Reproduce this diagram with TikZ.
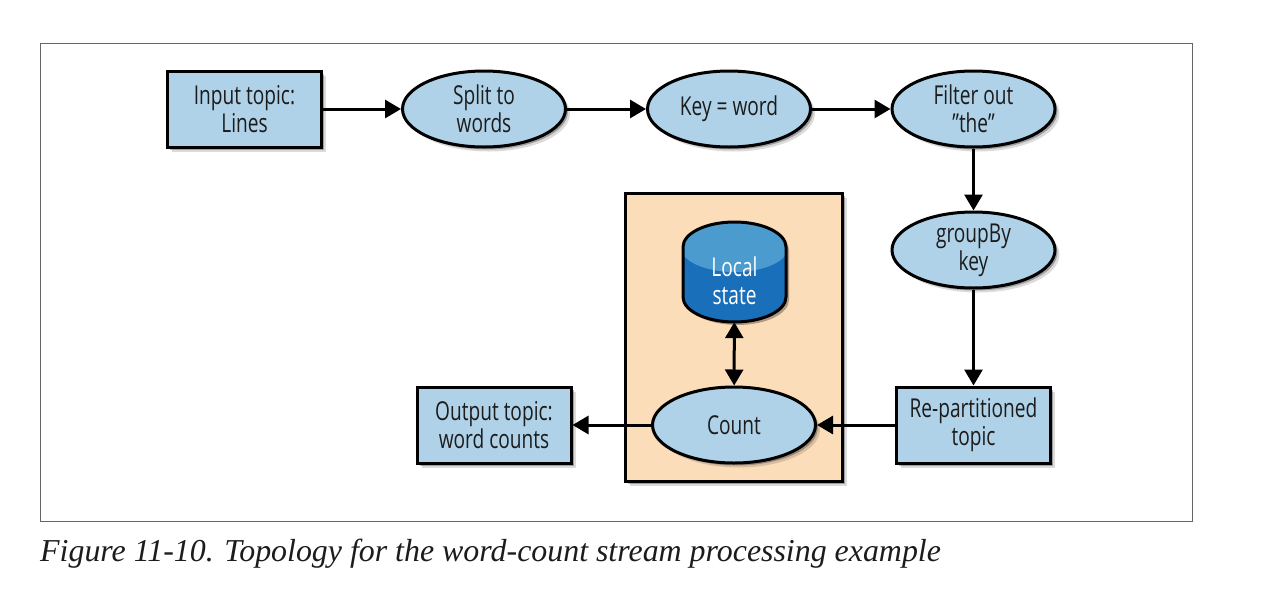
\documentclass[tikz,border=0pt]{standalone}
\usepackage{fontspec}
\setmainfont[FakeStretch=0.735]{Open Sans}
\newfontfamily\capfont{Liberation Serif}
\usepackage{xcolor}
\usepackage{tikz}
\usetikzlibrary{arrows.meta,shapes.geometric,shadows}
\definecolor{topicblue}{HTML}{AFD2E9}
\definecolor{boxorange}{HTML}{FCDDB9}
\definecolor{statedark}{HTML}{1A6FBB}
\definecolor{statelight}{HTML}{4C9BCF}
\definecolor{inkblack}{HTML}{1C1C1C}

\begin{document}
\begin{tikzpicture}[x=1pt,y=-1pt,
  softshadow/.style={drop shadow={shadow xshift=4.5pt,shadow yshift=-4.5pt,opacity=.14,fill=black},
    drop shadow={shadow xshift=2.5pt,shadow yshift=-2.5pt,opacity=.28,fill=black}},
  topicbox/.style={rectangle,draw=black,line width=3pt,fill=topicblue,softshadow,
    minimum width=154pt,minimum height=76pt,inner sep=0pt,align=center,text=inkblack,
    font=\fontsize{26}{28}\selectfont},
  stepoval/.style={ellipse,draw=black,line width=3pt,fill=topicblue,softshadow,
    minimum width=163pt,minimum height=76pt,inner sep=0pt,align=center,text=inkblack,
    font=\fontsize{26}{28}\selectfont},
  flow/.style={draw=black,line width=3pt,-{Triangle[length=16pt,width=18pt]}},
  bothflow/.style={draw=black,line width=3pt,{Triangle[length=16pt,width=18pt]}-{Triangle[length=16pt,width=18pt]}}]
  \useasboundingbox (0,0) rectangle (1283,592);
  \fill[white] (0,0) rectangle (1283,592);
  \node (frame) at (616,282) [rectangle,draw=black!60,line width=1pt,
    minimum width=1152pt,minimum height=478pt,inner sep=0pt] {};
  \node (caption) at (40,554) [anchor=west,inner sep=0pt,text=inkblack,
    font=\capfont\itshape\fontsize{31.9}{36}\selectfont]
    {Figure 11-10. Topology for the word-count stream processing example};
  % stateful part
  \node (countbox) at (734,337.5) [rectangle,draw=black,line width=3pt,fill=boxorange,softshadow,
    minimum width=217pt,minimum height=288pt,inner sep=0pt] {};
  \fill[black,opacity=.3] (686,250) arc (180:0:51.5pt and 25pt) -- (789,300)
    arc (0:-180:51.5pt and 25pt) -- cycle;
  \fill[statedark] (683,247) arc (180:0:51.5pt and 25pt) -- (786,297)
    arc (0:-180:51.5pt and 25pt) -- cycle;
  \begin{scope}
    \clip (683,247) arc (180:0:51.5pt and 25pt) -- (786,297)
      arc (0:-180:51.5pt and 25pt) -- cycle;
    \fill[statelight] (734.5,247) ellipse (54pt and 25pt);
  \end{scope}
  \draw[black,line width=3pt] (683,247) arc (180:0:51.5pt and 25pt) -- (786,297)
    arc (0:-180:51.5pt and 25pt) -- cycle;
  \node (state) at (734.5,272) [rectangle,minimum width=103pt,minimum height=100pt,inner sep=0pt] {};
  \node (statetext) at (734.5,281) [inner sep=0pt,align=center,text=white,
    font=\fontsize{26}{28}\selectfont] {Local\\state};
  % top row
  \node[topicbox] (input) at (244.5,109) {Input topic:\\Lines};
  \node[stepoval] (split) at (484,109) {Split to\\words};
  \node[stepoval] (keyword) at (729,109) {Key = word};
  \node[stepoval] (filter) at (973.5,109) {Filter out\\\symbol{34}the\symbol{34}};
  % right column and bottom row
  \node[stepoval] (groupby) at (973.5,250) {groupBy\\key};
  \node[topicbox] (repart) at (973.5,425) {Re-partitioned\\topic};
  \node[stepoval] (count) at (734,425) {Count};
  \node[topicbox] (output) at (494,425) {Output topic:\\word counts};
  \draw[flow] (input) -- (split);
  \draw[flow] (split) -- (keyword);
  \draw[flow] (keyword) -- (filter);
  \draw[flow] (filter) -- (groupby);
  \draw[flow] (groupby) -- (repart);
  \draw[flow] (repart) -- (count);
  \draw[flow] (count) -- (output);
  \draw[bothflow] (state) -- (count);
\end{tikzpicture}
\end{document}
